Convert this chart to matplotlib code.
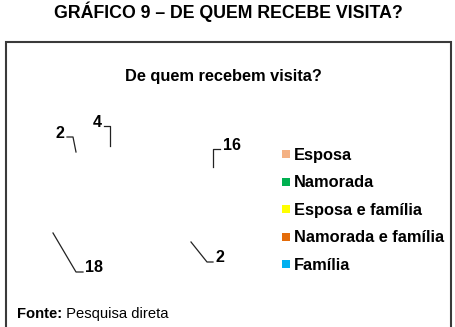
import matplotlib
matplotlib.use("Agg")
import matplotlib.pyplot as plt
from matplotlib.lines import Line2D
from matplotlib.patches import Rectangle

# ---- data ----
categorias = ["Esposa", "Namorada", "Esposa e família", "Namorada e família", "Família"]
valores = [16, 2, 18, 2, 4]
cores = ["#F4B183", "#00B050", "#FFFF00", "#E46C0A", "#00B0F0"]

titulo = "GRÁFICO 9 – DE QUEM RECEBE VISITA?"
subtitulo = "De quem recebem visita?"

# ---- layout (pixels, y down) ----
W, H = 456, 327
label_pos = [(232, 150), (219.5, 262), (94, 272), (60, 138), (97, 127)]
leader_pts = [
    [(220, 149), (213, 149), (213, 167)],
    [(191, 242), (207, 262), (213, 262)],
    [(53, 233), (76, 272), (83, 272)],
    [(67, 137), (73, 137), (76, 152)],
    [(104, 126), (110, 126), (110, 146)],
]
pie_cx, pie_cy, pie_r = 133, 197, 75
legend_x, legend_y0, legend_dy = 282, 154, 27.5

plt.rcParams['font.family'] = ['Liberation Sans', 'DejaVu Sans']

fig = plt.figure(figsize=(W / 100, H / 100), dpi=100)
fig.patch.set_facecolor("white")

def fx(x):
    return x / W

def fy(y):
    return 1 - y / H

# frame box
fig.add_artist(Rectangle((fx(6), fy(340)), fx(451) - fx(6), fy(42) - fy(340),
                         transform=fig.transFigure, fill=False,
                         edgecolor="#3a3a3a", linewidth=1.5, clip_on=False))

# titles
fig.text(fx(228.5), fy(18), titulo, ha="center", va="baseline",
         fontsize=12.8, fontweight="bold", color="black")
fig.text(fx(223.5), fy(81), subtitulo, ha="center", va="baseline",
         fontsize=11.8, fontweight="bold", color="black")

# pie (white wedges, invisible on white background as in the reference)
lim = 1.5
size = 2 * lim * pie_r
ax = fig.add_axes([fx(pie_cx - size / 2), fy(pie_cy + size / 2), size / W, size / H])
ax.pie(valores, colors=["white"] * len(valores), startangle=90, counterclock=False,
       wedgeprops=dict(linewidth=0))
ax.set_xlim(-lim, lim)
ax.set_ylim(-lim, lim)
ax.set_aspect("equal")
ax.axis("off")

# data labels with leader lines
for v, (lx, ly), pts in zip(valores, label_pos, leader_pts):
    fig.text(fx(lx), fy(ly), str(v), ha="center", va="baseline",
             fontsize=11.6, fontweight="bold", color="black")
    fig.add_artist(Line2D([fx(p[0]) for p in pts], [fy(p[1]) for p in pts],
                          transform=fig.transFigure, color="#222222", linewidth=0.9))

# legend
for i, (cat, c) in enumerate(zip(categorias, cores)):
    yc = legend_y0 + i * legend_dy
    fig.add_artist(Rectangle((fx(legend_x), fy(yc + 4)), 8 / W, 8 / H,
                             transform=fig.transFigure, facecolor=c, edgecolor="none"))
    fig.text(fx(legend_x + 12), fy(yc + 5.8), cat, ha="left", va="baseline",
             fontsize=11.8, fontweight="bold", color="black")

# source
t1 = fig.text(fx(17), fy(318), "Fonte:", ha="left", va="baseline",
              fontsize=10.6, fontweight="bold", color="black")
fig.canvas.draw()
bb = t1.get_window_extent(renderer=fig.canvas.get_renderer())
fig.text(bb.x1 / W, fy(318), " Pesquisa direta", ha="left", va="baseline",
         fontsize=10.6, color="black")

fig.savefig("out.png", dpi=100, facecolor="white")
